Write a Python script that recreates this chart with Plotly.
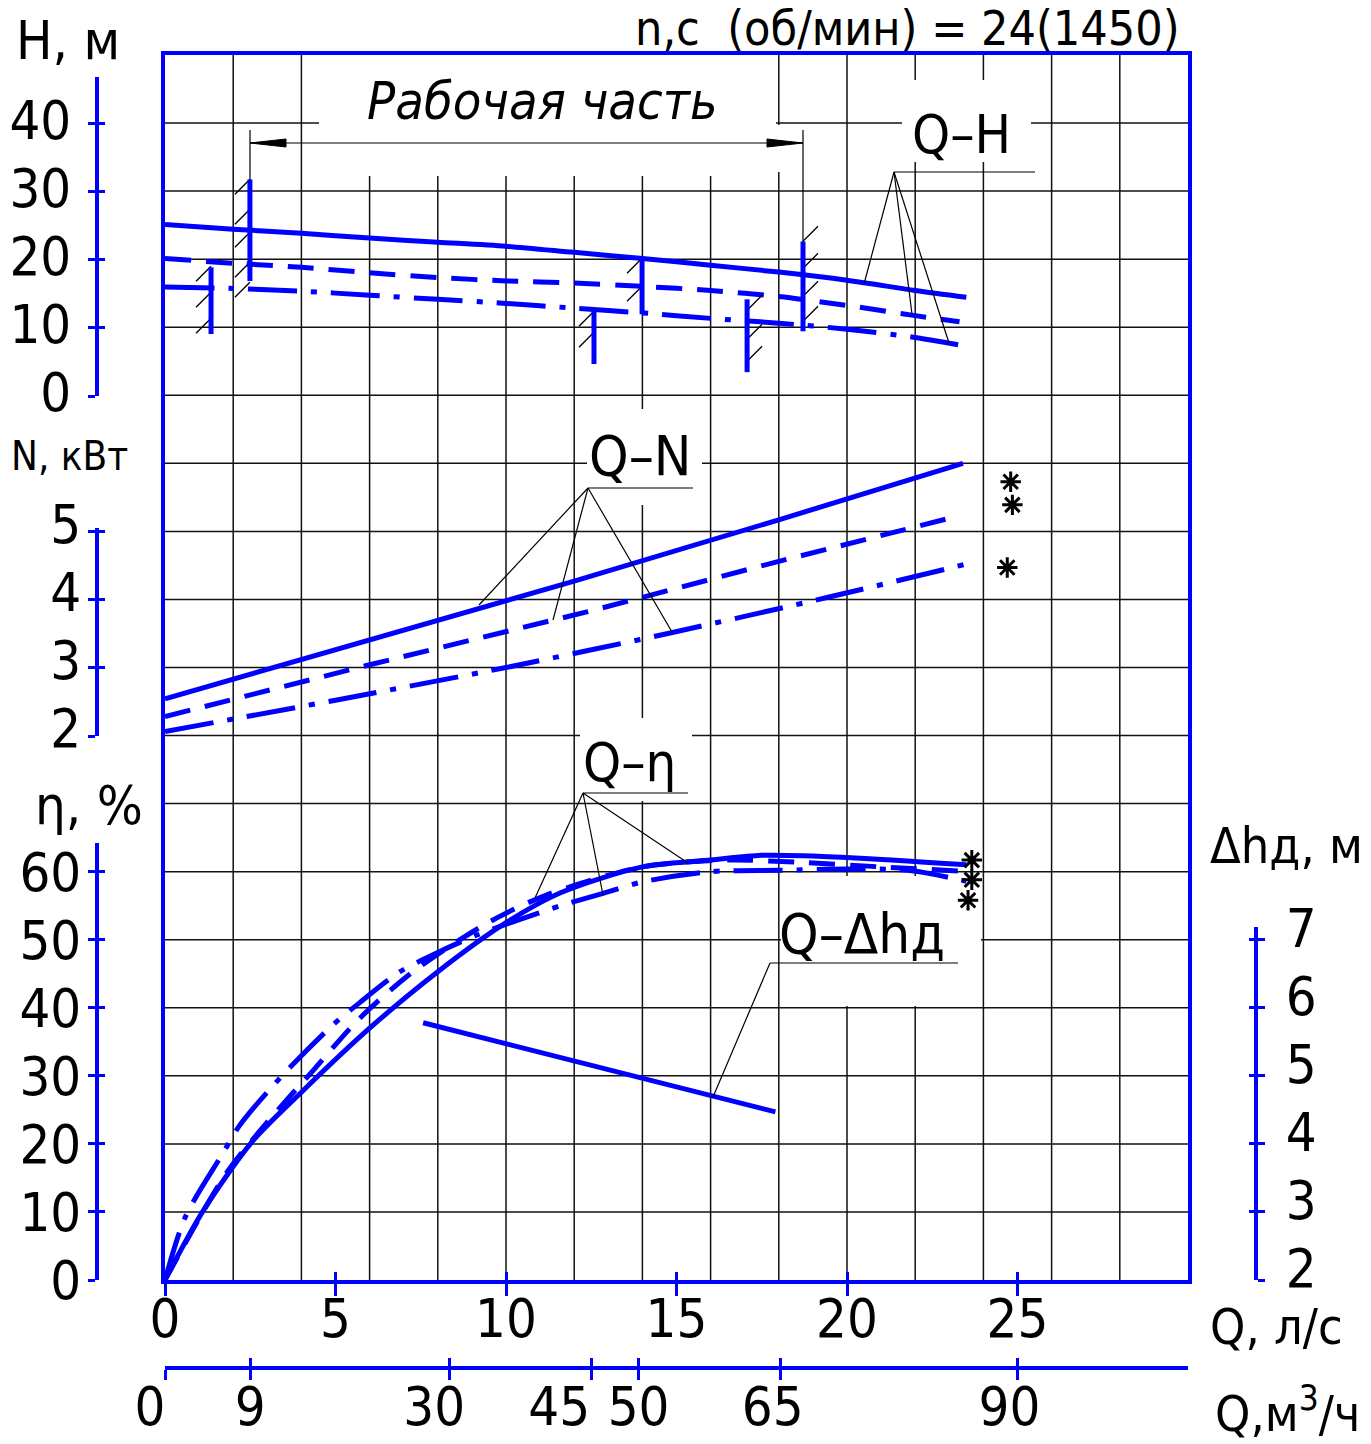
import plotly.graph_objects as go

# ---------------- data ----------------
# Q-H curves : Q in l/s, H in m
q_h_1 = [0, 2, 4, 6, 8, 10, 12, 14, 16, 18, 20, 22, 23.5]
h_1 = [25.1, 24.4, 23.8, 23.1, 22.5, 21.9, 21.0, 20.1, 19.1, 18.1, 16.9, 15.4, 14.4]
q_h_2 = [0, 2, 4, 6, 8, 10, 12, 14, 16, 18, 20, 22, 23.3]
h_2 = [20.1, 19.4, 18.8, 18.0, 17.3, 16.8, 16.5, 16.0, 15.4, 14.5, 13.2, 11.7, 10.8]
q_h_3 = [0, 2, 4, 6, 8, 10, 12, 14, 16, 18, 20, 22, 23.5]
h_3 = [15.9, 15.7, 15.3, 14.7, 14.1, 13.5, 12.8, 12.1, 11.3, 10.6, 9.7, 8.5, 7.2]

# Q-N curves : N in kW
q_n_1 = [0, 6, 12, 18, 23.4]
n_1 = [2.54, 3.40, 4.27, 5.17, 6.0]
q_n_2 = [0, 6, 12.4, 18, 23.3]
n_2 = [2.28, 3.04, 3.82, 4.56, 5.23]
q_n_3 = [0, 5, 10, 14.75, 19.6, 23.5]
n_3 = [2.06, 2.52, 3.0, 3.50, 4.05, 4.52]

# Q-eta curves : eta in %
q_e_1 = [0, 1.1, 2.55, 4.0, 6.0, 8.0, 10.0, 11.6, 14.0, 16.0, 17.5, 20.0, 23.5]
e_1 = [0, 10.0, 20.3, 27.6, 37.0, 45.3, 52.5, 56.9, 60.7, 61.7, 62.4, 62.1, 61.0]
q_e_2 = [0, 1.76, 3.0, 4.4, 5.66, 7.27, 9.47, 11.2, 14.0, 16.5, 18.5, 21.0, 23.3]
e_2 = [0, 15.4, 23.2, 31.1, 38.2, 45.3, 52.5, 56.6, 60.7, 61.7, 61.4, 60.7, 60.1]
q_e_3 = [0, 0.6, 1.67, 2.2, 3.14, 3.87, 4.93, 5.72, 6.89, 7.86, 9.15, 11.6, 12.85, 14.0, 16.0, 18.0, 20.0, 21.8, 23.5]
e_3 = [0, 9.3, 18.4, 22.8, 28.4, 32.3, 37.5, 40.8, 45.3, 47.8, 50.7, 55.0, 56.8, 58.5, 60.0, 60.2, 60.4, 60.2, 58.6]

# Q-dh (NPSH) : m
q_dh = [7.57, 17.9]
dh = [5.78, 4.47]

# working-part limits on the Q-H field
work_q = [1.35, 2.49, 12.58, 13.99, 17.07, 18.71]
work_h_top = [18.8, 31.7, 12.6, 20.3, 14.1, 22.6]
work_h_bot = [9.0, 16.8, 4.6, 11.9, 3.4, 9.4]
work_side = [-1, -1, -1, -1, 1, 1]
hatch_h = [[18.95, 15.13, 11.31], [31.74, 27.33, 23.95, 19.54, 16.60], [12.34, 9.26],
           [20.13, 16.02], [12.49, 8.23, 5.0], [22.63, 18.66, 14.55, 10.87]]

# end-of-curve asterisks
star_n_q = [24.8, 24.85, 24.7]
star_n = [5.73, 5.39, 4.47]
star_e_q = [23.66, 23.66, 23.55]
star_e = [61.7, 58.8, 55.8]

# axis ticks
q_ls_ticks = [0, 5, 10, 15, 20, 25]
q_m3_ticks = [0, 9, 30, 45, 50, 65, 90]
h_ticks = [0, 10, 20, 30, 40]
n_ticks = [2, 3, 4, 5]
e_ticks = [0, 10, 20, 30, 40, 50, 60]
dh_ticks = [2, 3, 4, 5, 6, 7]

# ---------------- geometry helpers ----------------
W, HT = 1371, 1444
OFF = 8            # page margin of the html body
X0, X1, Y0, Y1 = 165, 1188, 55, 1280
Q_MAX, ROWS = 30, 18


def fx(px):
    return (px - OFF) / W


def fy(py):
    return 1 - (py - OFF) / HT


def qx(px):
    return (px - X0) / (X1 - X0) * Q_MAX


def ry(py):
    return (Y1 - py) / (Y1 - Y0) * ROWS


BLUE = '#0000FF'
FONT = 'Liberation Sans Narrow, Arial Narrow, DejaVu Sans Condensed, sans-serif'
DASH = '26px,15px'
DASHDOT = '49px,14px,6px,14px'
HQ, HH = 0.44, 2.2   # hatch stroke extents (Q units, H units)

fig = go.Figure()


def curve(x, y, yax, dash=None, shape='spline'):
    fig.add_trace(go.Scatter(x=x, y=y, xaxis='x', yaxis=yax, mode='lines',
                             line=dict(color=BLUE, width=5, dash=dash, shape=shape, smoothing=0.8),
                             showlegend=False, hoverinfo='skip'))


# Q-H
curve(q_h_1, h_1, 'y2')
curve(q_h_2, h_2, 'y2', DASH)
curve(q_h_3, h_3, 'y2', DASHDOT)
# Q-N
curve(q_n_1, n_1, 'y3', shape='linear')
curve(q_n_2, n_2, 'y3', DASH, shape='linear')
curve(q_n_3, n_3, 'y3', DASHDOT)
# Q-eta
curve(q_e_1, e_1, 'y4')
curve(q_e_2, e_2, 'y4', DASH)
curve(q_e_3, e_3, 'y4', DASHDOT)
# Q-dh
curve(q_dh, dh, 'y5', shape='linear')

# working part bars + hatching
bx, by, hx, hy = [], [], [], []
for q, top, bot, s, hs in zip(work_q, work_h_top, work_h_bot, work_side, hatch_h):
    bx += [q, q, None]
    by += [bot, top, None]
    for h in hs:
        hx += [q, q + s * HQ, None]
        hy += [h, h + s * HH, None]
fig.add_trace(go.Scatter(x=hx, y=hy, xaxis='x', yaxis='y2', mode='lines',
                         line=dict(color='black', width=1.3), showlegend=False, hoverinfo='skip'))
fig.add_trace(go.Scatter(x=bx, y=by, xaxis='x', yaxis='y2', mode='lines',
                         line=dict(color=BLUE, width=5), showlegend=False, hoverinfo='skip'))

# asterisks
for xs, ys, yax in [(star_n_q, star_n, 'y3'), (star_e_q, star_e, 'y4')]:
    fig.add_trace(go.Scatter(x=xs, y=ys, xaxis='x', yaxis=yax, mode='markers',
                             marker=dict(symbol='asterisk-open', size=17, color='black',
                                         line=dict(color='black', width=3)),
                             showlegend=False, hoverinfo='skip'))

# dummy traces so that the decorative axes are drawn
extra_x = ['x2', 'x3', 'x4', 'x5', 'x6', 'x7', 'x8']
for xa in extra_x:
    fig.add_trace(go.Scatter(x=[None], y=[None], xaxis=xa, yaxis='y', mode='markers',
                             showlegend=False, hoverinfo='skip'))
for i in range(6, 14):
    fig.add_trace(go.Scatter(x=[None], y=[None], xaxis='x', yaxis='y%d' % i, mode='markers',
                             showlegend=False, hoverinfo='skip'))

# ---------------- grid & gaps (shapes) ----------------
shapes = []
GRID = dict(color='#111111', width=1.5)
for q in range(2, 30, 2):
    shapes.append(dict(type='line', xref='x', yref='y', x0=q, x1=q, y0=0, y1=ROWS,
                       line=GRID, layer='below'))
for r in range(1, ROWS):
    shapes.append(dict(type='line', xref='x', yref='y', x0=0, x1=Q_MAX, y0=r, y1=r,
                       line=GRID, layer='below'))
gaps = [(319, 55, 776, 176), (771, 125, 787, 172), (902, 80, 1031, 162),
        (587, 409, 702, 505), (580, 718, 692, 801), (781, 876, 981, 1006)]
for a, b, c, d in gaps:
    shapes.append(dict(type='rect', xref='x', yref='y', x0=qx(a), x1=qx(c), y0=ry(d), y1=ry(b),
                       fillcolor='white', line=dict(width=0), layer='below'))

THIN = dict(color='black', width=1.2)
leaders = [
    # Q-H
    (894, 172, 1035, 172), (894, 172, 864, 284), (894, 172, 912, 314), (894, 172, 949, 343),
    # Q-N
    (588, 488, 693, 488), (588, 488, 479, 605), (588, 488, 553, 620), (588, 488, 672, 632),
    # Q-eta
    (583, 793, 688, 793), (583, 793, 688, 863), (583, 793, 603, 895), (583, 793, 535, 898),
    # Q-dh
    (770, 963, 958, 963), (770, 963, 713, 1097),
    # working-part dimension: extension lines and dimension line
    (250, 130, 250, 180), (803, 130, 803, 242), (250, 143, 803, 143),
]
for a, b, c, d in leaders:
    shapes.append(dict(type='line', xref='x', yref='y', x0=qx(a), x1=qx(c), y0=ry(b), y1=ry(d),
                       line=THIN, layer='above'))
# arrow heads of the dimension line
for tip, base in [(250, 286), (803, 767)]:
    path = 'M %f,%f L %f,%f L %f,%f Z' % (qx(tip), ry(143), qx(base), ry(139), qx(base), ry(147))
    shapes.append(dict(type='path', xref='x', yref='y', path=path, fillcolor='black',
                       line=dict(color='black', width=1), layer='above'))

# ---------------- annotations ----------------
ann = []


def text(s, px, py, size=56, xanchor='center', italic=False):
    ann.append(dict(text=s, x=fx(px), y=fy(py), xref='paper', yref='paper', showarrow=False,
                    xanchor=xanchor, yanchor='middle',
                    font=dict(family=FONT, size=size, color='black',
                              style='italic' if italic else 'normal')))


text('n,c\u00a0\u00a0(об/мин) = 24(1450)', 1182, 28, size=48, xanchor='right')
text('H, м', 14, 40, size=54, xanchor='left')
text('N, кВт', 9, 456, size=40, xanchor='left')
text('η, %', 33, 805, size=54, xanchor='left')
text('Δhд, м', 1208, 846, size=50, xanchor='left')
text('Q, л/с', 1208, 1327, size=50, xanchor='left')
text('Q,м<sup>3</sup>/ч', 1213, 1410, size=50, xanchor='left')
text('Рабочая часть', 542, 101, size=52, italic=True)
text('Q–H', 961, 135, size=54)
text('Q–N', 640, 456, size=56)
text('Q–η', 629, 762, size=54)
text('Q–Δhд', 862, 933, size=56)

# ---------------- axes ----------------
TF = dict(family=FONT, size=54, color='black')
xd = [fx(X0), fx(X1)]
yd = [fy(Y1), fy(Y0)]
common = dict(showgrid=False, zeroline=False, automargin=False)


def deco_pair(name_a, name_b, top_px, bottom_px, rng, ticks, pos_px, side='left',
              standoff=12, shift=0):
    dom = [fy(bottom_px), fy(top_px)]
    a = dict(domain=dom, range=rng, anchor='free', position=fx(pos_px), side=side,
             showline=True, linecolor=BLUE, linewidth=4, tickvals=ticks, ticks='outside',
             ticklen=7, tickwidth=3, tickcolor=BLUE, tickfont=TF, ticklabelstandoff=standoff,
             ticklabelshift=shift, **common)
    b = dict(domain=dom, range=rng, anchor='free', position=fx(pos_px), side=side,
             showline=False, tickvals=ticks, ticks='inside', ticklen=7, tickwidth=3,
             tickcolor=BLUE, showticklabels=False, **common)
    return {name_a: a, name_b: b}


def m3_labels(vals, shift):
    # label-only axis for the m3/h scale (labels shifted as in the drawing)
    return dict(domain=xd, range=[0, Q_MAX * 3.6], anchor='free', position=fy(1368),
                showline=False, tickvals=vals, ticks='outside', ticklen=10,
                tickcolor='rgba(0,0,0,0)', tickfont=TF, tickangle=0, ticklabelshift=shift,
                ticklabelstandoff=-19, **common)


h_top = (396 - 77) / 6.806
n_top = 2 + (736 - 528) / 68.06
e_top = (1280 - 843) / 6.806
dh_top = 2 + (1280 - 927) / 68.06

layout = dict(
    width=W, height=HT, margin=dict(l=0, r=0, t=0, b=0, autoexpand=False),
    paper_bgcolor='white', plot_bgcolor='rgba(0,0,0,0)', showlegend=False,
    font=dict(family=FONT, color='black', size=54), annotations=ann, shapes=shapes,
    xaxis=dict(domain=xd, range=[0, Q_MAX], anchor='y', showline=True, mirror=True,
               linecolor=BLUE, linewidth=4, tickvals=q_ls_ticks, ticks='outside', ticklen=12,
               tickwidth=3, tickcolor=BLUE, tickfont=TF, tickangle=0, ticklabelstandoff=-24,
               **common),
    xaxis3=dict(overlaying='x', range=[0, Q_MAX], anchor='y', tickvals=q_ls_ticks[1:],
                ticks='inside', ticklen=8, tickwidth=3, tickcolor=BLUE, showticklabels=False,
                showline=False, **common),
    xaxis2=dict(domain=xd, range=[0, Q_MAX * 3.6], anchor='free', position=fy(1368),
                showline=True, linecolor=BLUE, linewidth=4, tickvals=q_m3_ticks,
                ticks='outside', ticklen=10, tickwidth=3, tickcolor=BLUE,
                showticklabels=False, **common),
    xaxis4=dict(domain=xd, range=[0, Q_MAX * 3.6], anchor='free', position=fy(1368),
                showline=False, tickvals=q_m3_ticks, ticks='inside', ticklen=10, tickwidth=3,
                tickcolor=BLUE, showticklabels=False, **common),
    xaxis5=m3_labels([9, 50], 0),
    xaxis6=m3_labels([0, 30], -15),
    xaxis7=m3_labels([45], -32),
    xaxis8=m3_labels([65, 90], -8),
    yaxis=dict(domain=yd, range=[0, ROWS], anchor='x', showline=True, mirror=True,
               linecolor=BLUE, linewidth=4, showticklabels=False, ticks='', **common),
    yaxis2=dict(overlaying='y', range=[-130, 50], visible=False, **common),
    yaxis3=dict(overlaying='y', range=[-6, 12], visible=False, **common),
    yaxis4=dict(overlaying='y', range=[0, 180], visible=False, **common),
    yaxis5=dict(overlaying='y', range=[2, 20], visible=False, **common),
)
layout.update(deco_pair('yaxis6', 'yaxis7', 77, 396, [0, h_top], h_ticks, 97,
                        standoff=6, shift=-4))
layout.update(deco_pair('yaxis8', 'yaxis9', 528, 736, [2, n_top], n_ticks, 97,
                        standoff=-4, shift=-8))
layout.update(deco_pair('yaxis10', 'yaxis11', 843, 1280, [0, e_top], e_ticks, 97,
                        standoff=-4, shift=0))
layout.update(deco_pair('yaxis12', 'yaxis13', 927, 1280, [2, dh_top], dh_ticks, 1256,
                        side='right', standoff=10, shift=-12))

fig.update_layout(**layout)
fig.write_html('out.html', config={'displayModeBar': False})
